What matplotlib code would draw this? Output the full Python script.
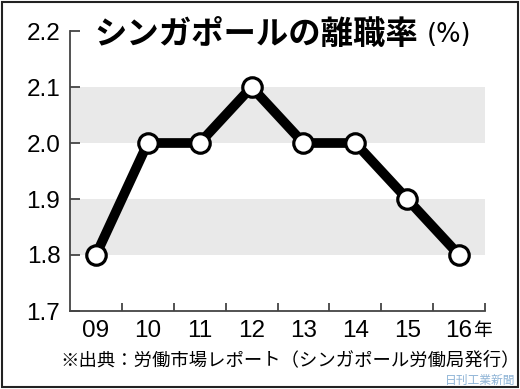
import matplotlib
matplotlib.use("Agg")
import matplotlib.pyplot as plt
from matplotlib.patches import Rectangle

plt.rcParams['font.family'] = ['Noto Sans CJK JP', 'DejaVu Sans']

years = ["09", "10", "11", "12", "13", "14", "15", "16"]
rates = [1.8, 2.0, 2.0, 2.1, 2.0, 2.0, 1.9, 1.8]
yticks = [1.7, 1.8, 1.9, 2.0, 2.1, 2.2]
bands = [(1.8, 1.9), (2.0, 2.1)]
title = "シンガポールの離職率"
unit = "(%)"
source = "※出典：労働市場レポート（シンガポール労働局発行）"
credit = "日刊工業新聞"

fig = plt.figure(figsize=(5.2, 3.89), dpi=100)
W, H = 520, 389
ax = fig.add_axes([70 / W, 1 - 311 / H, (485 - 70) / W, (311 - 31) / H])

n = len(years)
x = list(range(n))
ax.set_xlim(-0.5, n - 0.5)
ax.set_ylim(1.7, 2.2)

for lo, hi in bands:
    ax.axhspan(lo, hi, color="#e9e9e9", zorder=0, lw=0)

ax.plot(x, rates, color="black", lw=7, zorder=3, solid_joinstyle="miter")
ax.plot(x, rates, ls="none", marker="o", ms=14, mfc="white", mec="black", mew=2.3, zorder=4)

for s in ["top", "right"]:
    ax.spines[s].set_visible(False)
for s in ["left", "bottom"]:
    ax.spines[s].set_color("#444444")
    ax.spines[s].set_linewidth(1.3)

ax.set_yticks(yticks)
ax.set_yticklabels([f"{v:.1f}" for v in yticks], fontsize=17.5, family=["Liberation Sans", "DejaVu Sans"])
ax.tick_params(axis="y", direction="in", length=7, width=1.3, color="#444444", pad=7)

ax.set_xticks([i + 0.5 for i in range(n)])
ax.set_xticklabels([])
ax.tick_params(axis="x", direction="in", length=6, width=1.3, color="#444444")
for i, yl in enumerate(years):
    ax.text(i, -0.07, yl, transform=ax.get_xaxis_transform(), ha="center", va="center",
            fontsize=17.5, family=["Liberation Sans", "DejaVu Sans"])
ax.text(n - 1 + 0.46, -0.07, "年", transform=ax.get_xaxis_transform(), ha="center", va="center",
        fontsize=13.5)

fig.text(94 / W, 1 - 34 / H, title, fontsize=23.3, fontweight="bold", ha="left", va="center")
fig.text(427 / W, 1 - 35 / H, unit, fontsize=18.5, ha="left", va="center",
         family=["DejaVu Sans"])
fig.text(60 / W, 1 - 360 / H, source, fontsize=13.2, ha="left", va="center")
fig.text(515 / W, 1 - 380 / H, credit, fontsize=8.5, ha="right", va="center", color="#8fb4d6")

fig.patches.append(Rectangle((2 / W, 2 / H), 1 - 4 / W, 1 - 4 / H, transform=fig.transFigure,
                             fill=False, ec="#222222", lw=1.5))

fig.savefig("out.png", dpi=100)
